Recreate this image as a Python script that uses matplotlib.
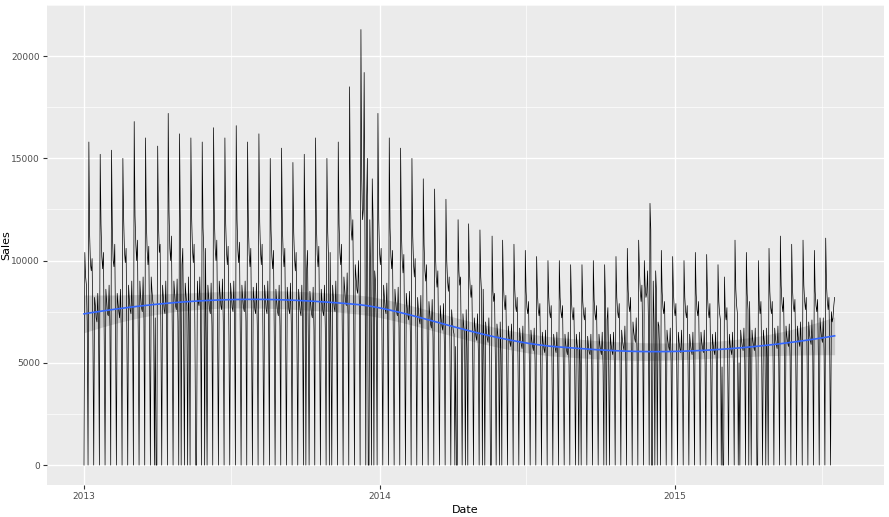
import numpy as np, pandas as pd, matplotlib
matplotlib.use("Agg")
import matplotlib.pyplot as plt
import matplotlib.dates as mdates

# daily sales in hundreds, rows = weeks (Mon..Sun), first row starts Tue 2013-01-01
sales_h = [
0,104,92,88,70,0,
158,112,98,95,101,64,0, 82,78,72,70,84,66,0, 152,118,102,96,104,60,0, 86,80,74,73,88,68,0,
154,115,100,97,108,62,0, 84,79,75,72,86,67,0, 150,120,104,99,106,61,0, 88,81,76,74,90,70,0,
168,122,108,100,110,63,0, 90,82,77,75,92,71,0, 160,119,105,98,107,62,0, 92,85,80,78,0,72,0,
0,156,118,104,108,64,0, 88,82,76,74,90,69,0, 172,124,106,100,112,65,0, 90,84,78,76,91,70,0,
162,118,0,98,106,63,0, 89,83,78,0,92,70,0, 160,120,105,99,108,64,0, 0,90,80,78,92,71,0,
158,116,104,0,106,62,0, 88,82,76,74,89,68,0, 165,121,106,100,110,64,0, 90,84,78,76,91,70,0,
160,118,104,98,107,63,0, 89,83,77,75,90,69,0, 166,120,105,99,109,64,0, 88,82,77,75,90,70,0,
158,117,103,97,106,62,0, 87,81,76,74,89,68,0, 162,119,104,98,108,63,0, 88,82,76,74,90,69,0,
150,115,102,96,105,62,0, 86,80,75,73,88,68,0, 155,117,103,97,106,62,0, 87,81,76,74,89,69,0,
148,114,101,95,104,61,0, 86,80,75,73,88,67,0, 152,116,0,96,105,62,0, 85,79,74,72,87,66,0,
160,118,103,97,107,63,0, 86,80,75,73,88,67,0, 150,114,101,0,104,61,0, 88,82,77,75,90,70,0,
158,118,104,98,108,64,0, 92,86,80,78,94,74,0, 185,130,115,110,120,75,0, 98,92,86,84,100,80,0,
213,140,120,125,192,110,0, 130,150,0,0,120,95,0,
140,120,0,95,90,70,0, 172,120,104,98,106,62,0, 88,82,76,74,89,68,0, 160,116,102,96,105,61,0,
86,80,75,73,87,67,0, 155,114,100,94,103,60,0, 84,78,73,71,85,65,0, 150,112,98,92,101,59,0,
82,76,71,69,83,63,0, 140,108,95,90,98,58,0, 80,74,69,67,81,62,0, 135,104,92,87,95,56,0,
78,72,68,66,79,60,0, 130,100,90,85,92,55,0, 76,70,66,64,0,58,0, 0,120,95,88,92,56,0,
74,68,64,0,76,57,0, 118,95,86,82,88,54,0, 72,67,63,61,74,56,0, 115,92,84,0,86,53,0,
70,65,62,60,72,55,0, 0,112,85,80,84,52,0, 69,64,61,0,70,54,0, 110,88,80,76,83,51,0,
68,63,60,58,69,53,0, 108,86,78,75,82,50,0, 67,62,59,57,68,52,0, 105,85,77,74,80,50,0,
66,61,58,56,67,51,0, 102,84,76,73,79,49,0, 65,60,57,55,66,50,0, 100,82,75,72,78,48,0,
64,60,57,55,65,50,0, 100,82,75,72,78,48,0, 64,59,56,54,65,49,0, 98,80,74,71,77,48,0,
64,59,56,0,65,49,0, 98,80,74,71,77,48,0, 63,58,55,54,64,49,0, 100,81,74,71,78,48,0,
64,59,56,54,65,49,0, 98,80,0,71,77,48,0, 64,59,56,54,65,50,0, 102,82,75,72,79,50,0,
66,61,58,56,68,52,0, 106,86,78,75,82,54,0, 70,65,62,60,72,56,0, 110,95,85,80,88,62,0,
100,88,82,84,95,72,0, 128,115,0,0,90,70,0,
95,85,0,70,68,55,0, 105,85,77,74,80,50,0, 66,61,58,56,67,51,0, 102,84,76,73,79,49,0,
65,60,57,55,66,50,0, 100,82,75,72,78,49,0, 64,59,56,54,65,49,0, 104,84,76,73,80,50,0,
65,60,57,55,66,50,0, 103,83,75,72,79,49,0, 64,59,56,54,65,49,0, 98,80,74,71,0,48,0,
0,92,74,71,77,48,0, 64,59,56,54,65,49,0, 110,86,78,74,0,50,0, 66,61,58,56,67,51,0,
104,84,76,0,80,50,0, 66,61,58,56,67,51,0, 0,100,78,74,80,50,0, 66,61,58,0,67,51,0,
106,85,77,74,80,51,0, 67,62,59,57,68,52,0, 112,88,79,75,82,52,0, 68,63,60,58,69,53,0,
108,86,78,75,81,52,0, 68,63,60,58,70,54,0, 110,88,80,76,82,53,0, 70,64,61,59,71,55,0,
105,85,78,75,81,52,0, 72,66,62,60,72,56,0, 111,88,80,76,82,54,0,
75,70,72,78,82,
]
start_date = "2013-01-01"

sales = np.array(sales_h, dtype=float) * 100
dates = pd.date_range(start_date, periods=len(sales), freq="D")
t = (dates - dates[0]).days.values.astype(float)

def loess(x, y, xe, span=0.75):
    n = len(x); q = int(np.ceil(span * n))
    rows = []
    for x0 in xe:
        d = np.abs(x - x0); h = np.sort(d)[q - 1]
        w = np.clip(1 - (d / h) ** 3, 0, None) ** 3
        X = np.vstack([np.ones(n), x - x0, (x - x0) ** 2]).T
        XtW = X.T * w
        A = np.linalg.solve(XtW @ X, XtW)
        rows.append(A[0])
    L = np.array(rows)
    return L @ y, L
xe = np.linspace(t.min(), t.max(), 80)
fe, L = loess(t, sales, xe)
ff, Lf = loess(t, sales, t)
sigma = np.sqrt(np.sum((sales - ff) ** 2) / (len(t) - 10))
se = sigma * np.sqrt(np.sum(L ** 2, axis=1))
de = dates[0] + pd.to_timedelta(xe, unit="D")

fig = plt.figure(figsize=(8.89, 5.17), dpi=100)
ax = fig.add_axes([47/889, 32/517, 837/889, 480/517])
ax.set_facecolor("#EBEBEB")
ax.plot(dates, sales, color="black", lw=0.5)
ax.fill_between(de, fe - 1.96*se, fe + 1.96*se, color="#999999", alpha=0.4, lw=0)
ax.plot(de, fe, color="#3366FF", lw=1.2)

d0 = pd.Timestamp(start_date)
ax.set_xlim(d0 - pd.Timedelta(days=45.7), d0 + pd.Timedelta(days=988))
ax.set_ylim(-973, 22384)
ax.xaxis.set_major_locator(mdates.YearLocator())
ax.xaxis.set_major_formatter(mdates.DateFormatter("%Y"))
ax.xaxis.set_minor_locator(mdates.MonthLocator(bymonth=7))
ax.set_yticks([0, 5000, 10000, 15000, 20000])
ax.set_yticks([2500, 7500, 12500, 17500, 22500], minor=True)
ax.grid(which="major", color="white", lw=1.0)
ax.grid(which="minor", color="white", lw=0.5)
ax.set_axisbelow(True)
for s in ax.spines.values(): s.set_visible(False)
ax.tick_params(which="major", length=3, pad=2, color="#333333", labelsize=6.5, labelcolor="#4D4D4D")
ax.tick_params(which="minor", length=0)
ax.set_xlabel("Date", fontsize=8, labelpad=3)
ax.set_ylabel("Sales", fontsize=8)
ax.yaxis.set_label_coords(-36/837, 0.5)
fig.savefig("out.png", dpi=100)
